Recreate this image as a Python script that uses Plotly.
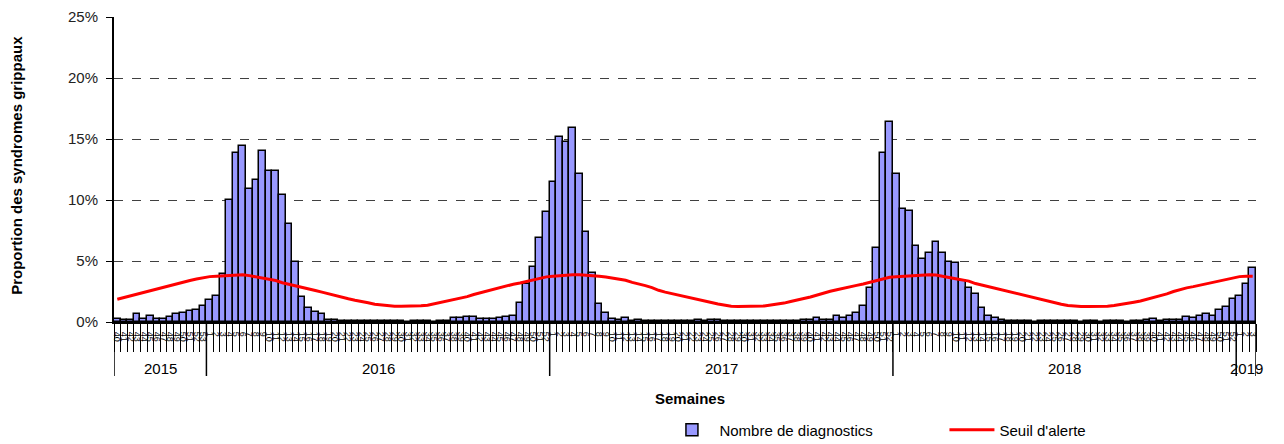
import plotly.graph_objects as go

# ---- data -------------------------------------------------------------
years = ["2015", "2016", "2017", "2018", "2019"]
weeks_2015 = list(range(40, 54))
weeks_2016 = list(range(1, 53))
weeks_2017 = list(range(1, 53))
weeks_2018 = list(range(1, 53))
weeks_2019 = list(range(1, 4))

diag_2015 = [0.27, 0.16, 0.16, 0.63, 0.27, 0.52, 0.27, 0.27, 0.41, 0.63, 0.77, 0.87, 1.01, 1.34]
diag_2016 = [1.80, 2.16, 3.91, 10.03, 13.88, 14.45, 10.87, 11.67, 13.99, 12.38,
             12.38, 10.38, 8.06, 4.92, 2.02, 1.12, 0.85, 0.63, 0.20, 0.16,
             0.08, 0.08, 0.08, 0.08, 0.08, 0.08, 0.08, 0.08, 0.08, 0.08,
             0.0, 0.08, 0.08, 0.08, 0.0, 0.08, 0.08, 0.30, 0.30, 0.44,
             0.44, 0.22, 0.22, 0.22, 0.30, 0.41, 0.52, 1.58, 3.14, 4.51,
             6.91, 8.99]
diag_2017 = [11.45, 15.16, 14.78, 15.93, 12.10, 7.35, 3.99, 1.48, 0.77, 0.27,
             0.16, 0.30, 0.08, 0.16, 0.08, 0.08, 0.08, 0.08, 0.08, 0.08,
             0.08, 0.08, 0.16, 0.08, 0.16, 0.16, 0.08, 0.08, 0.08, 0.08,
             0.08, 0.08, 0.08, 0.08, 0.08, 0.08, 0.08, 0.08, 0.16, 0.16,
             0.30, 0.16, 0.16, 0.50, 0.33, 0.52, 0.77, 1.34, 2.82, 6.09,
             13.88, 16.42]
diag_2018 = [12.10, 9.23, 9.10, 6.20, 5.14, 5.63, 6.53, 5.63, 4.95, 4.81,
             3.36, 2.81, 2.27, 1.17, 0.52, 0.35, 0.16, 0.08, 0.08, 0.08,
             0.08, 0.0, 0.08, 0.08, 0.08, 0.08, 0.08, 0.08, 0.0, 0.08,
             0.08, 0.0, 0.08, 0.08, 0.08, 0.0, 0.08, 0.08, 0.16, 0.27,
             0.08, 0.16, 0.16, 0.16, 0.41, 0.30, 0.52, 0.63, 0.52, 0.98,
             1.23, 1.91]
diag_2019 = [2.13, 3.09, 4.45]

seuil_2015 = [1.86, 2.00, 2.20, 2.32, 2.45, 2.60, 2.75, 2.87, 3.00, 3.12, 3.28, 3.40, 3.52, 3.63]
seuil_2016 = [3.72, 3.75, 3.78, 3.82, 3.87, 3.88, 3.80, 3.70, 3.62, 3.52,
              3.40, 3.22, 3.08, 2.98, 2.85, 2.72, 2.58, 2.45, 2.30, 2.15,
              2.03, 1.90, 1.78, 1.70, 1.58, 1.45, 1.38, 1.33, 1.30, 1.29,
              1.29, 1.30, 1.33, 1.38, 1.50, 1.60, 1.70, 1.85, 1.97, 2.08,
              2.25, 2.40, 2.52, 2.68, 2.84, 2.97, 3.10, 3.20, 3.32, 3.45,
              3.58, 3.70]
seuil_2017 = [3.75, 3.80, 3.85, 3.88, 3.88, 3.85, 3.80, 3.75, 3.68, 3.60,
              3.53, 3.42, 3.25, 3.13, 2.98, 2.82, 2.60, 2.45, 2.32, 2.20,
              2.08, 1.95, 1.85, 1.72, 1.60, 1.48, 1.38, 1.30, 1.27, 1.27,
              1.27, 1.27, 1.32, 1.40, 1.45, 1.55, 1.68, 1.77, 1.92, 2.05,
              2.22, 2.38, 2.52, 2.65, 2.75, 2.84, 3.00, 3.12, 3.25, 3.38,
              3.52, 3.66]
seuil_2018 = [3.70, 3.74, 3.80, 3.86, 3.90, 3.88, 3.85, 3.78, 3.65, 3.55,
              3.48, 3.35, 3.15, 3.02, 2.87, 2.72, 2.60, 2.48, 2.35, 2.22,
              2.10, 1.95, 1.82, 1.70, 1.58, 1.46, 1.36, 1.30, 1.28, 1.28,
              1.28, 1.28, 1.30, 1.35, 1.42, 1.50, 1.62, 1.72, 1.85, 1.98,
              2.12, 2.30, 2.50, 2.68, 2.80, 2.90, 3.02, 3.12, 3.25, 3.40,
              3.52, 3.62]
seuil_2019 = [3.72, 3.75, 3.74]

y_ticks = [0, 5, 10, 15, 20, 25]
y_ticktext = ["0%", "5%", "10%", "15%", "20%", "25%"]

# ---- assemble ---------------------------------------------------------
week_lists = [weeks_2015, weeks_2016, weeks_2017, weeks_2018, weeks_2019]
diag_lists = [diag_2015, diag_2016, diag_2017, diag_2018, diag_2019]
seuil_lists = [seuil_2015, seuil_2016, seuil_2017, seuil_2018, seuil_2019]

cats, ticktext, diag, seuil = [], [], [], []
for yr, wl, dl, sl in zip(years, week_lists, diag_lists, seuil_lists):
    for w, d, s in zip(wl, dl, sl):
        cats.append(f"{yr}-S{w:02d}")
        ticktext.append(str(w))
        diag.append(d)
        seuil.append(s)
n = len(cats)

FONT = "Liberation Sans, Arial, sans-serif"

fig = go.Figure()
fig.add_trace(go.Bar(
    x=cats, y=diag, name="Nombre de diagnostics",
    marker=dict(color="#9999FF", line=dict(color="black", width=1.5)),
))
fig.add_trace(go.Scatter(
    x=cats, y=seuil, name="Seuil d'alerte", mode="lines",
    line=dict(color="#FF0000", width=3),
))

# year separators and labels
shapes, annotations = [], []
bounds = [-0.5]
for wl in week_lists:
    bounds.append(bounds[-1] + len(wl))
for b in bounds:
    shapes.append(dict(type="line", xref="x", yref="paper", x0=b, x1=b,
                       y0=0, y1=-0.177, line=dict(color="black", width=1.5)))
for i, yr in enumerate(years):
    annotations.append(dict(x=(bounds[i] + bounds[i + 1]) / 2, xref="x",
                            y=-0.151, yref="paper", text=yr, showarrow=False,
                            font=dict(family=FONT, size=15, color="black"),
                            yanchor="middle"))

annotations.append(dict(x=0.504, xref="paper", y=-0.252, yref="paper",
                        text="<b>Semaines</b>", showarrow=False,
                        font=dict(family=FONT, size=15, color="black"),
                        yanchor="middle"))
annotations.append(dict(x=-0.085, xref="paper", y=0.515, yref="paper",
                        text="<b>Proportion des syndromes grippaux</b>",
                        textangle=-90, showarrow=False,
                        font=dict(family="Liberation Sans Narrow, Arial Narrow, Liberation Sans, Arial",
                                  size=15, color="black"),
                        xanchor="center", yanchor="middle"))

# the page body adds an 8px offset, so the figure is 8px smaller each way
fig.update_layout(
    width=1276, height=436,
    margin=dict(l=106, r=28, t=9, b=122, autoexpand=False),
    paper_bgcolor="white", plot_bgcolor="white",
    bargap=0,
    font=dict(family=FONT, color="black"),
    shapes=shapes, annotations=annotations,
    legend=dict(orientation="h", x=0.482, xanchor="left", y=-0.30, yanchor="top",
                font=dict(family=FONT, size=15, color="black"),
                itemwidth=45,
                bgcolor="rgba(0,0,0,0)", entrywidth=220, entrywidthmode="pixels"),
)
fig.update_xaxes(
    type="category", categoryorder="array", categoryarray=cats,
    tickmode="array", tickvals=cats, ticktext=ticktext,
    tickson="boundaries", ticks="outside", ticklen=28, tickwidth=1.2,
    tickcolor="black", tickangle=90, tickfont=dict(size=9, color="black"),
    ticklabelstandoff=6, automargin=False,
    showline=True, linecolor="black", linewidth=2, showgrid=False,
    range=[-0.5, n - 0.5],
)
fig.update_yaxes(
    range=[0, 25], tickmode="array", tickvals=y_ticks, ticktext=y_ticktext,
    showgrid=True, gridcolor="#404040", griddash="dash", gridwidth=1.3,
    ticks="outside", ticklen=6, tickcolor="black", automargin=False,
    ticklabelstandoff=5,
    showline=True, linecolor="black", linewidth=2, zeroline=False,
    tickfont=dict(family=FONT, size=15, color="#222222"),
)

fig.write_html("out.html")
